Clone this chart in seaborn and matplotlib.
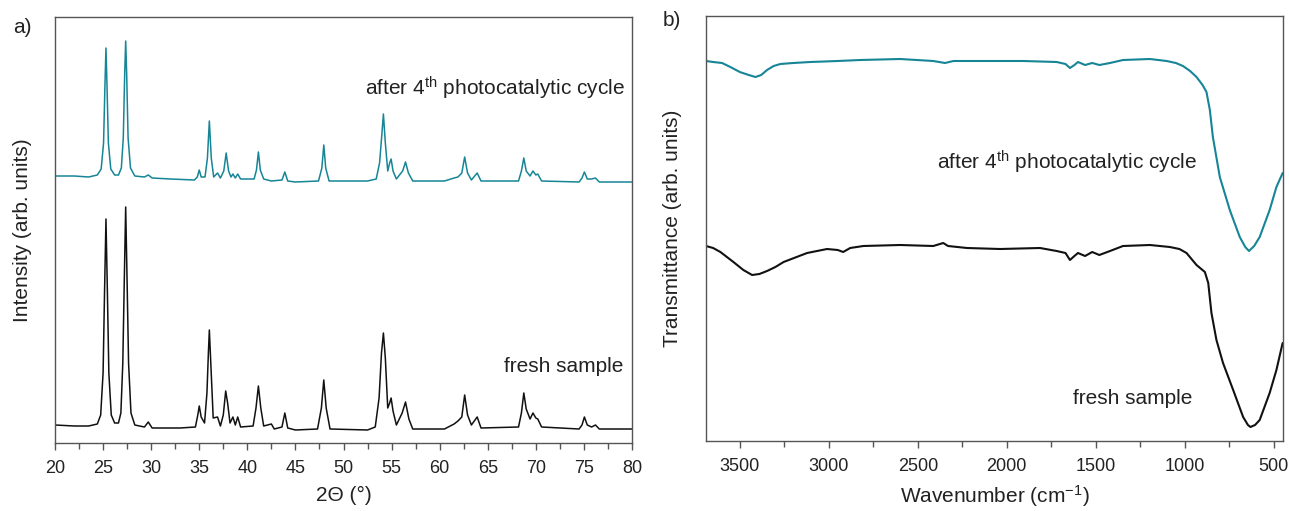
import matplotlib
matplotlib.use("Agg")
import matplotlib.pyplot as plt
import seaborn as sns
import pandas as pd
from matplotlib.ticker import MultipleLocator, NullLocator

# ---------------- data ----------------
# XRD, after 4th photocatalytic cycle (offset trace, arb. units)
xrd_after_2theta = [20.0, 22.0, 23.5, 24.4, 24.8, 25.05, 25.2, 25.3, 25.4, 25.55, 25.8, 26.2,
                    26.6, 26.9, 27.1, 27.25, 27.35, 27.45, 27.6, 27.85, 28.3, 29.3, 29.7, 30.1,
                    32.0, 34.5, 34.8, 35.0, 35.2, 35.6, 35.85, 36.05, 36.25, 36.5, 36.9, 37.2,
                    37.55, 37.8, 38.05, 38.3, 38.5, 38.75, 39.0, 39.3, 40.7, 40.95, 41.15, 41.35,
                    41.7, 42.5, 43.6, 43.9, 44.2, 45.0, 47.4, 47.75, 47.95, 48.15, 48.5, 52.5,
                    53.4, 53.75, 54.0, 54.15, 54.35, 54.6, 54.8, 54.95, 55.15, 55.5, 56.15, 56.45,
                    56.75, 57.2, 60.5, 61.5, 61.9, 62.3, 62.6, 62.9, 63.3, 63.9, 64.3, 68.2,
                    68.5, 68.75, 69.0, 69.4, 69.7, 70.0, 70.2, 70.6, 74.5, 74.8, 75.05, 75.35,
                    75.8, 76.2, 76.6, 80.0]
xrd_after_int = [267, 267, 266, 268, 274, 300, 360, 395, 360, 300, 274, 268,
                 268, 275, 305, 370, 402, 370, 305, 275, 267, 266, 268, 265,
                 264, 263, 266, 273, 266, 266, 285, 322, 285, 266, 270, 265,
                 272, 290, 272, 266, 269, 265, 269, 264, 264, 273, 291, 273,
                 264, 262, 263, 271, 262, 261, 262, 275, 298, 275, 262, 262,
                 264, 280, 310, 329, 300, 272, 280, 284, 272, 264, 272, 281,
                 270, 262, 262, 265, 266, 270, 286, 270, 263, 270, 262, 262,
                 272, 285, 272, 267, 272, 268, 269, 262, 261, 265, 271, 264,
                 264, 265, 261, 261]

# XRD, fresh sample
xrd_fresh_2theta = [20.0, 22.0, 23.5, 24.4, 24.75, 25.0, 25.15, 25.3, 25.45, 25.6, 25.85, 26.2,
                    26.6, 26.85, 27.05, 27.2, 27.35, 27.5, 27.65, 27.9, 28.3, 29.3, 29.7, 30.1,
                    33.0, 34.6, 34.85, 35.0, 35.2, 35.55, 35.8, 35.95, 36.05, 36.2, 36.45, 36.9,
                    37.2, 37.5, 37.75, 37.95, 38.2, 38.5, 38.75, 39.0, 39.3, 40.6, 40.9, 41.15,
                    41.4, 41.7, 42.5, 42.8, 43.6, 43.9, 44.2, 45.0, 47.3, 47.7, 47.95, 48.2,
                    48.6, 52.5, 53.3, 53.7, 53.95, 54.15, 54.35, 54.6, 54.8, 54.95, 55.15, 55.5,
                    56.1, 56.45, 56.8, 57.2, 60.5, 61.5, 61.9, 62.3, 62.6, 62.9, 63.3, 63.9,
                    64.3, 68.2, 68.5, 68.75, 69.0, 69.4, 69.7, 70.0, 70.2, 70.6, 74.5, 74.8,
                    75.05, 75.35, 75.8, 76.2, 76.6, 80.0]
xrd_fresh_int = [18, 17, 17, 19, 28, 70, 150, 224, 150, 70, 28, 20,
                 20, 30, 80, 160, 236, 160, 80, 30, 18, 16, 21, 15,
                 15, 16, 28, 37, 26, 20, 50, 90, 113, 80, 25, 26,
                 17, 28, 52, 40, 20, 26, 18, 26, 16, 17, 35, 57,
                 35, 17, 19, 14, 16, 30, 15, 13, 14, 35, 63, 35,
                 14, 13, 16, 45, 90, 110, 85, 35, 40, 45, 32, 18,
                 30, 41, 24, 14, 14, 19, 22, 26, 48, 28, 18, 26,
                 15, 16, 30, 50, 34, 24, 30, 25, 24, 16, 14, 18,
                 26, 18, 16, 18, 14, 14]

# FTIR, after 4th photocatalytic cycle
ftir_after_wn = [3690, 3650, 3600, 3553, 3500, 3450, 3412, 3380, 3347, 3310, 3272, 3200,
                 3104, 2950, 2823, 2599, 2413, 2347, 2300, 2262, 2038, 1908, 1720, 1670,
                 1645, 1620, 1600, 1560, 1520, 1480, 1420, 1347, 1196, 1102, 1050, 1010,
                 970, 934, 900, 878, 859, 842, 803, 747, 691, 660, 639, 610,
                 579, 523, 485, 450]
ftir_after_t = [380, 379, 378, 374, 369, 366, 364, 366, 371, 375, 377, 378,
                379, 380, 381, 382, 380, 378, 380, 380, 380, 380, 379, 377,
                373, 376, 379, 376, 378, 376, 378, 381, 382, 380, 378, 375,
                370, 364, 356, 349, 331, 304, 264, 231, 204, 194, 190, 195,
                204, 231, 254, 268]

# FTIR, fresh sample
ftir_fresh_wn = [3690, 3650, 3609, 3536, 3480, 3431, 3390, 3347, 3300, 3254, 3122, 3010,
                 2950, 2919, 2880, 2806, 2599, 2413, 2357, 2330, 2224, 2038, 1813, 1720,
                 1670, 1645, 1620, 1600, 1560, 1520, 1480, 1420, 1347, 1196, 1084, 1030,
                 990, 934, 887, 868, 850, 822, 785, 728, 672, 645, 631, 605,
                 579, 523, 485, 450]
ftir_fresh_t = [195, 193, 189, 179, 171, 166, 167, 170, 174, 179, 188, 192,
                191, 189, 193, 195, 196, 195, 198, 195, 193, 192, 193, 190,
                188, 181, 185, 188, 185, 189, 186, 190, 195, 196, 194, 192,
                188, 176, 169, 158, 128, 101, 78, 51, 24, 16, 14, 16,
                21, 48, 71, 98]

label_after = "after 4$^{\\rm th}$ photocatalytic cycle"
label_fresh = "fresh sample"

# ---------------- style ----------------
sns.set_theme(style="white")
plt.rcParams["font.family"] = ["Liberation Sans", "DejaVu Sans"]
plt.rcParams["mathtext.fontset"] = "custom"
plt.rcParams["mathtext.rm"] = "Liberation Sans"
plt.rcParams["mathtext.it"] = "Liberation Sans:italic"
plt.rcParams["mathtext.default"] = "rm"

teal = "#168596"
black = "#111111"
spine_c = "#555555"

W, H = 1289, 511
fig = plt.figure(figsize=(W / 100, H / 100), dpi=100)
fig.patch.set_facecolor("white")


def rect(l, t, r, b):
    return [l / W, 1 - b / H, (r - l) / W, (b - t) / H]


axL = fig.add_axes(rect(55, 17, 632, 443))
axR = fig.add_axes(rect(706, 16, 1283, 441))

dfa = pd.DataFrame({"x": xrd_after_2theta, "y": xrd_after_int})
dff = pd.DataFrame({"x": xrd_fresh_2theta, "y": xrd_fresh_int})
sns.lineplot(data=dfa, x="x", y="y", ax=axL, color=teal, lw=1.1, sort=False, estimator=None)
sns.lineplot(data=dff, x="x", y="y", ax=axL, color=black, lw=1.1, sort=False, estimator=None)

dfA = pd.DataFrame({"x": ftir_after_wn, "y": ftir_after_t})
dfF = pd.DataFrame({"x": ftir_fresh_wn, "y": ftir_fresh_t})
sns.lineplot(data=dfA, x="x", y="y", ax=axR, color=teal, lw=1.5, sort=False, estimator=None)
sns.lineplot(data=dfF, x="x", y="y", ax=axR, color=black, lw=1.5, sort=False, estimator=None)

axL.set_xlim(20, 80)
axL.set_ylim(0, 426)
axR.set_xlim(3690, 448)
axR.set_ylim(0, 425)

axL.xaxis.set_major_locator(MultipleLocator(5))
axL.xaxis.set_minor_locator(MultipleLocator(2.5))
axR.xaxis.set_major_locator(MultipleLocator(500))
axR.xaxis.set_minor_locator(MultipleLocator(250))

for ax in (axL, axR):
    ax.yaxis.set_major_locator(NullLocator())
    ax.yaxis.set_minor_locator(NullLocator())
    for s in ax.spines.values():
        s.set_color(spine_c)
        s.set_linewidth(1.0)
        s.set_visible(True)
    ax.tick_params(axis="x", which="major", direction="out", length=5, width=1,
                   color=spine_c, labelsize=13, pad=7, bottom=True, labelcolor="#222222")
    ax.tick_params(axis="x", which="minor", direction="out", length=4, width=1,
                   color=spine_c, bottom=True)
    ax.grid(False)

axL.set_xlabel("2\u0398 (\u00b0)", fontsize=15, color="#222222")
axL.set_ylabel("Intensity (arb. units)", fontsize=15, color="#222222")
axR.set_xlabel("Wavenumber (cm$^{-1}$)", fontsize=15, color="#222222")
axR.set_ylabel("Transmittance (arb. units)", fontsize=15, color="#222222")
axL.xaxis.set_label_coords(0.5, -0.100)
axR.xaxis.set_label_coords(0.5, -0.100)
axL.yaxis.set_label_coords(-0.040, 0.5)
axR.yaxis.set_label_coords(-0.041, 0.5)

tc = "#222222"
fig.text(625 / W, 1 - 88 / H, label_after, ha="right", va="center", fontsize=15, color=tc)
fig.text(623 / W, 1 - 366 / H, label_fresh, ha="right", va="center", fontsize=15, color=tc)
fig.text(937 / W, 1 - 162 / H, label_after, ha="left", va="center", fontsize=15, color=tc)
fig.text(1073 / W, 1 - 398 / H, label_fresh, ha="left", va="center", fontsize=15, color=tc)
fig.text(22 / W, 1 - 27 / H, "a)", ha="center", va="center", fontsize=15, color=tc)
fig.text(672 / W, 1 - 20 / H, "b)", ha="center", va="center", fontsize=15, color=tc)

fig.savefig("out.png", dpi=100, facecolor="white")
